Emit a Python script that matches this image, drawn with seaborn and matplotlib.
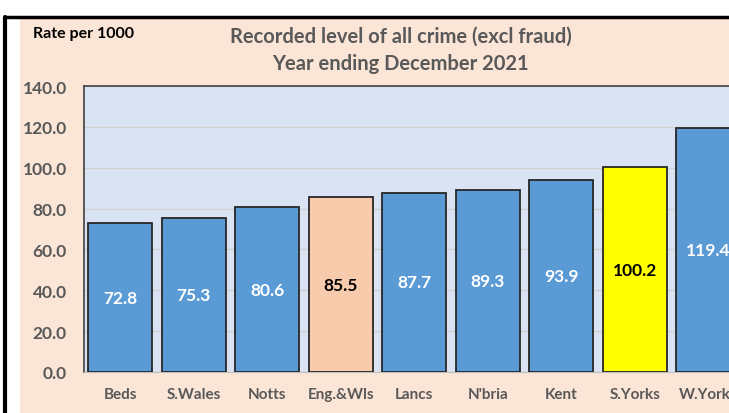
import matplotlib
matplotlib.use('Agg')
import matplotlib.pyplot as plt
from matplotlib.patches import Rectangle
from matplotlib.lines import Line2D
import seaborn as sns
import pandas as pd

# Dados
areas = ['Beds', 'S.Wales', 'Notts', 'Eng.&Wls', 'Lancs', "N'bria", 'Kent', 'S.Yorks', 'W.Yorks']
taxas = [72.8, 75.3, 80.6, 85.5, 87.7, 89.3, 93.9, 100.2, 119.4]
cores = ['#5B9BD5', '#5B9BD5', '#5B9BD5', '#F8CBAD', '#5B9BD5', '#5B9BD5', '#5B9BD5', '#FFFF00', '#5B9BD5']
cor_rotulo = ['white', 'white', 'white', 'black', 'white', 'white', 'white', 'black', 'white']
y_ticks = [0, 20, 40, 60, 80, 100, 120, 140]

df = pd.DataFrame({'Area': areas, 'Taxa': taxas})

sns.set_style('white')
plt.rcParams['font.family'] = ['Lato', 'DejaVu Sans']

fig = plt.figure(figsize=(7.29, 4.14), dpi=100)
fig.patch.set_facecolor('white')

W, H = 729, 414
# fundo pêssego e moldura do documento
fig.patches.append(Rectangle((20 / W, 0), 1, (H - 20) / H, transform=fig.transFigure,
                             facecolor='#FBE5D6', edgecolor='none', zorder=-5))
fig.lines.append(Line2D([5 / W, 1], [1 - 18 / H, 1 - 18 / H], transform=fig.transFigure,
                        color='black', lw=2.5))
fig.lines.append(Line2D([5 / W, 5 / W], [0, 1 - 18 / H], transform=fig.transFigure,
                        color='black', lw=3))

ax = fig.add_axes([83.5 / W, (H - 373) / H, 661.5 / W, 286 / H])
ax.set_zorder(2)
ax.set_facecolor('#DAE3F3')

sns.barplot(data=df, x='Area', y='Taxa', hue='Area', palette=cores, legend=False,
            saturation=1, width=0.87, edgecolor='#262626', linewidth=1.3, ax=ax, zorder=3)

for cont, c in zip(ax.containers, cor_rotulo):
    ax.bar_label(cont, fmt='%.1f', label_type='center', color=c,
                 fontsize=12.5, fontweight='bold')

ax.set_ylim(0, 140)
ax.set_xlim(-0.5, len(areas) - 0.5)
ax.set_yticks(y_ticks)
ax.set_yticklabels([f'{v:.1f}' for v in y_ticks], fontsize=12.5, fontweight='bold', color='#595959')
ax.set_xticks(range(len(areas)))
ax.set_xticklabels(areas, fontsize=11, fontweight='bold', color='#595959')
ax.tick_params(axis='y', length=0, pad=12)
ax.tick_params(axis='x', length=0, pad=11)
ax.yaxis.grid(True, color='#D0D0D0', lw=1, zorder=0)
ax.set_axisbelow(True)
ax.set_xlabel('')
ax.set_ylabel('')

ax.spines['left'].set_color('#404040')
ax.spines['top'].set_color('#404040')
ax.spines['left'].set_linewidth(1.2)
ax.spines['top'].set_linewidth(1.2)
ax.spines['bottom'].set_color('#BFBFBF')
ax.spines['right'].set_visible(False)

fig.text(401 / W, 1 - 37 / H, 'Recorded level of all crime (excl fraud)', ha='center', va='center',
         fontsize=14.5, fontweight='bold', color='#595959')
fig.text(400 / W, 1 - 64 / H, 'Year ending December 2021', ha='center', va='center',
         fontsize=14.5, fontweight='bold', color='#595959')
fig.text(33 / W, 1 - 34 / H, 'Rate per 1000', ha='left', va='center',
         fontsize=11.5, fontweight='bold', color='black')

plt.savefig('out.png', dpi=100)
